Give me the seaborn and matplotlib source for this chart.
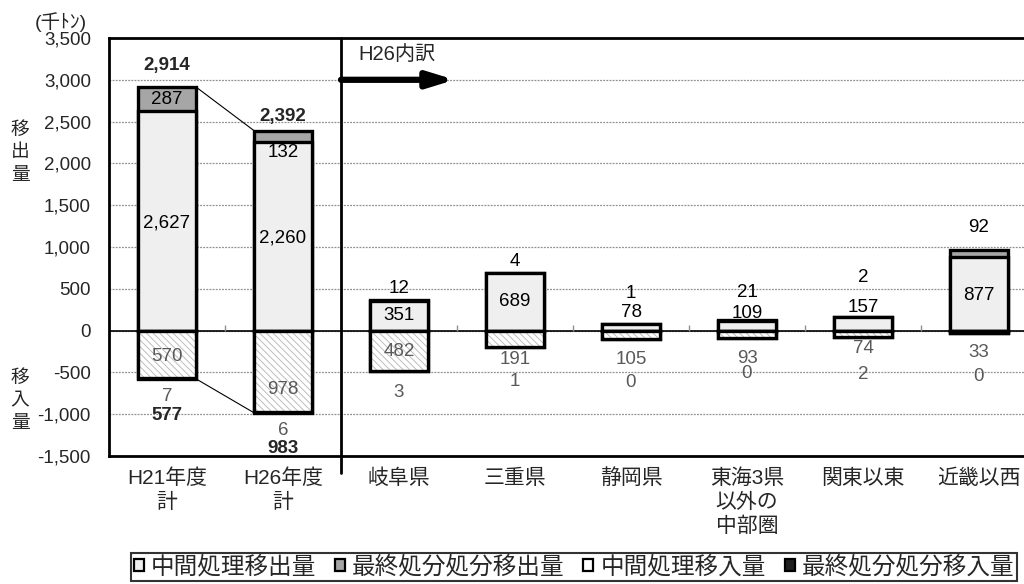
import pandas as pd
import matplotlib
matplotlib.use("Agg")
import matplotlib.pyplot as plt
import matplotlib.patches as mpatches
from matplotlib.ticker import FuncFormatter, MultipleLocator
import seaborn as sns

# データ (千トン)
categories = ["H21年度\n計", "H26年度\n計", "岐阜県", "三重県", "静岡県",
              "東海3県\n以外の\n中部圏", "関東以東", "近畿以西"]
out_mid = [2627, 2260, 351, 689, 78, 109, 157, 877]     # 中間処理移出量
out_final = [287, 132, 12, 4, 1, 21, 2, 92]             # 最終処分処分移出量
in_mid = [570, 978, 482, 191, 105, 93, 74, 33]          # 中間処理移入量
in_final = [7, 6, 3, 1, 0, 0, 2, 0]                     # 最終処分処分移入量
total_out = [2914, 2392]
total_in = [577, 983]

# ラベル位置 (y)
lab_out_final_y = [2770, 2130, 500, 825, 440, 455, 635, 1230]
lab_out_mid_y = [1290, 1110, 180, 345, 215, 200, 275, 420]
lab_in_mid_y = [-310, -705, -250, -345, -345, -335, -215, -265]
lab_in_final_y = [-790, -1195, -740, -610, -620, -515, -525, -550]
out_tot_y = [3170, 2565]
in_tot_y = [-1020, -1415]

sns.set_theme(style="white")
plt.rcParams["font.family"] = ["Liberation Sans", "Noto Sans CJK JP", "DejaVu Sans"]
plt.rcParams["hatch.linewidth"] = 0.7

df = pd.DataFrame({
    "cat": categories,
    "out_total": [m + f for m, f in zip(out_mid, out_final)],
    "out_mid": out_mid,
    "in_total": [-(m + f) for m, f in zip(in_mid, in_final)],
    "in_mid": [-m for m in in_mid],
})

fig = plt.figure(figsize=(10.24, 5.84), dpi=100)
ax = fig.add_axes([109 / 1024, 1 - 456 / 584, 928 / 1024, 418 / 584])

common = dict(data=df, x="cat", order=categories, width=0.5, saturation=1,
              errorbar=None, ax=ax, zorder=3)
sns.barplot(y="out_total", color="#a6a6a6", edgecolor="black", linewidth=2.4, **common)
sns.barplot(y="out_mid", color="#efefef", edgecolor="black", linewidth=2.4, **common)
sns.barplot(y="in_total", color="black", edgecolor="black", linewidth=2.4, **common)
sns.barplot(y="in_mid", color="white", edgecolor="#bdbdbd", linewidth=0,
            hatch="\\\\\\\\\\", **common)
sns.barplot(y="in_mid", fill=False, edgecolor="black", linewidth=2.4, **common)

ax.set_ylim(-1500, 3500)
ax.set_xlim(-0.5, 7.5)
ax.yaxis.set_major_locator(MultipleLocator(500))
ax.yaxis.set_major_formatter(FuncFormatter(lambda v, p: f"{int(v):,}"))
ax.set_xlabel("")
ax.set_ylabel("")
ax.set_xticks(range(len(categories)))
ax.set_xticklabels(categories, fontsize=15, linespacing=1.3)
ax.tick_params(axis="both", length=0)
ax.tick_params(axis="y", labelsize=13.5, pad=13)
ax.tick_params(axis="x", pad=9)

ax.yaxis.grid(True, linestyle=(0, (1.5, 1)), color="#909090", linewidth=0.9, zorder=0)
ax.axhline(0, color="black", linewidth=1.2, zorder=2)
ax.vlines([i + 0.5 for i in range(7)], 0, 70, color="#909090", linewidth=1, zorder=2)
for side in ["left", "top", "bottom"]:
    ax.spines[side].set_linewidth(2)
    ax.spines[side].set_color("black")
ax.spines["right"].set_visible(False)

# 区切り線と矢印
ax.plot([1.5, 1.5], [-1700, 3500], color="black", linewidth=2, clip_on=False, zorder=5)
ax.annotate("", xy=(2.48, 3000), xytext=(1.5, 3000),
            arrowprops=dict(arrowstyle="-|>,head_length=1.3,head_width=0.4",
                            color="black", linewidth=4.5, shrinkA=0, shrinkB=0), zorder=6)
ax.text(1.65, 3300, "H26内訳", fontsize=14.5, va="center", ha="left")

# H21とH26を結ぶ線
ax.plot([0.25, 0.75], [total_out[0], total_out[1]], color="black", linewidth=0.8, zorder=4)
ax.plot([0.25, 0.75], [-total_in[0], -total_in[1]], color="black", linewidth=0.8, zorder=4)

# 数値ラベル
fs = 13.5
for i in range(len(categories)):
    ax.text(i, lab_out_final_y[i], f"{out_final[i]:,}", ha="center", va="center",
            fontsize=fs, color="black", zorder=7)
    ax.text(i, lab_out_mid_y[i], f"{out_mid[i]:,}", ha="center", va="center",
            fontsize=fs, color="black", zorder=7)
    ax.text(i, lab_in_mid_y[i], f"{in_mid[i]:,}", ha="center", va="center",
            fontsize=fs, color="#595959", zorder=7)
    ax.text(i, lab_in_final_y[i], f"{in_final[i]:,}", ha="center", va="center",
            fontsize=fs, color="#595959", zorder=7)

for i in range(2):
    ax.text(i, out_tot_y[i], f"{total_out[i]:,}", ha="center", va="center",
            fontsize=fs, fontweight="bold", zorder=7)
    ax.text(i, in_tot_y[i], f"{total_in[i]:,}", ha="center", va="center",
            fontsize=fs, fontweight="bold", zorder=7)

# 軸ラベル
fig.text(20 / 1024, 1 - 153 / 584, "移\n出\n量", ha="center", va="center",
         fontsize=13.5, linespacing=1.4)
fig.text(20 / 1024, 1 - 401 / 584, "移\n入\n量", ha="center", va="center",
         fontsize=13.5, linespacing=1.4)
fig.text(61 / 1024, 1 - 22 / 584, "(千ﾄﾝ)", ha="center", va="center", fontsize=14)

# 凡例
handles = [
    mpatches.Patch(facecolor="#efefef", edgecolor="black", linewidth=1.6, label="中間処理移出量"),
    mpatches.Patch(facecolor="#a6a6a6", edgecolor="black", linewidth=1.6, label="最終処分処分移出量"),
    mpatches.Patch(facecolor="white", edgecolor="black", linewidth=1.6, label="中間処理移入量"),
    mpatches.Patch(facecolor="#202020", edgecolor="black", linewidth=1.6, label="最終処分処分移入量"),
]
leg = fig.legend(handles=handles, loc="upper center", bbox_to_anchor=(574 / 1024, 1 - 553 / 584),
                 ncol=4, fontsize=17, frameon=True, fancybox=False, edgecolor="black",
                 handlelength=0.42, handleheight=0.42, handletextpad=0.3,
                 columnspacing=0.8, borderpad=0.12, borderaxespad=0)
leg.get_frame().set_linewidth(1.5)

fig.savefig("out.png", dpi=100)
